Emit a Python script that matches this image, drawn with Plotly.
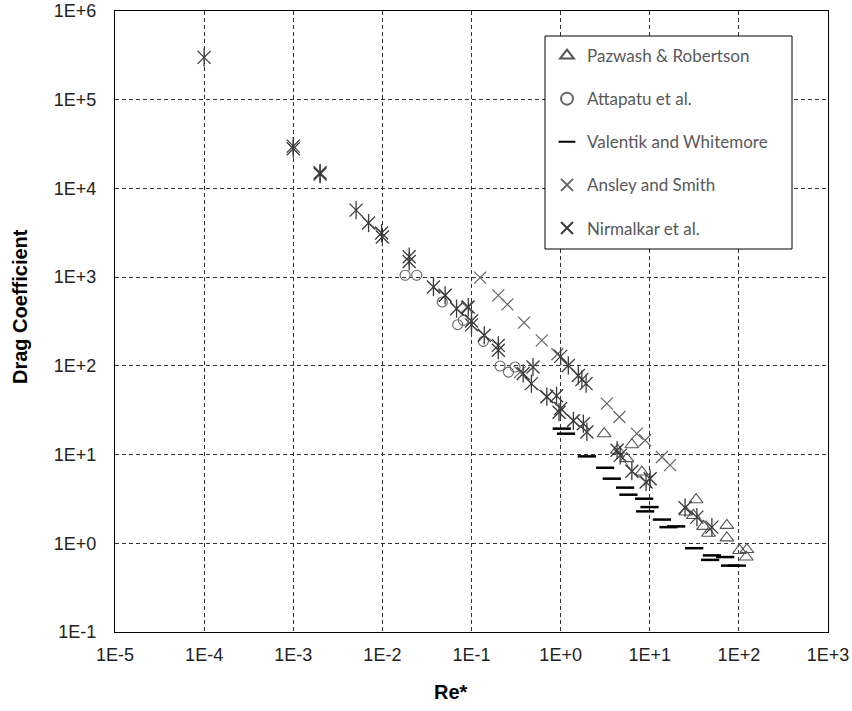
import plotly.graph_objects as go

# ---------------- data ----------------
tick_vals_x = [1e-5, 1e-4, 1e-3, 1e-2, 1e-1, 1e0, 1e1, 1e2, 1e3]
tick_text_x = ["1E-5", "1E-4", "1E-3", "1E-2", "1E-1", "1E+0", "1E+1", "1E+2", "1E+3"]
tick_vals_y = [1e-1, 1e0, 1e1, 1e2, 1e3, 1e4, 1e5, 1e6]
tick_text_y = ["1E-1", "1E+0", "1E+1", "1E+2", "1E+3", "1E+4", "1E+5", "1E+6"]

paz_x = [3.08, 4.35, 5.53, 6.3, 8.15, 25.4, 30.9, 33.1, 40.1, 45.6, 73.3, 73.3, 101.6, 123, 121]
paz_y = [17.2, 11.2, 9.0, 12.9, 6.35, 2.25, 2.06, 3.1, 1.55, 1.30, 1.59, 1.15, 0.83, 0.85, 0.70]

att_x = [0.018, 0.0243, 0.047, 0.070, 0.081, 0.136, 0.209, 0.26, 0.308]
att_y = [1050, 1050, 524, 291, 326, 189, 99.6, 85, 97]

val_x = [1.03, 1.15, 1.97, 3.16, 3.75, 5.29, 5.77, 8.65, 9.93, 8.88, 13.7, 16.2, 19.8,
         31.5, 49.8, 47.6, 70.2, 79.8, 94.9]
val_y = [19.6, 17.2, 9.55, 7.1, 5.35, 4.24, 3.53, 3.18, 2.56, 2.29, 1.85, 1.52, 1.55,
         0.88, 0.73, 0.65, 0.70, 0.56, 0.56]

ans_x = [0.125, 0.2, 0.253, 0.389, 0.615, 0.92, 3.3, 4.57, 7.16, 8.87, 13.7, 16.9,
         0.0506, 0.0885, 0.35, 0.70, 1.39]
ans_y = [986, 624, 493, 307, 194, 135, 37.5, 26.5, 17.2, 14.5, 9.4, 7.6,
         624, 460, 85, 44.5, 24.3]

# Nirmalkar et al.: points sharing a segment id are joined by a thin line
nir_x = [1e-4, 1e-3, 1e-3, 2e-3, 2e-3,
         5.07e-3, 7.0e-3, 9.8e-3, 1.0e-2,
         2e-2, 2e-2,
         3.74e-2, 5.06e-2, 6.8e-2, 0.1, 0.1, 0.139, 0.2, 0.2,
         0.092, 0.49, 0.90, 0.96, 1.8,
         0.38, 0.47, 0.70, 1.0, 1.39, 1.97,
         1.0, 1.22, 1.58, 1.73, 1.93,
         4.3, 4.66, 6.3, 9.1, 10.1,
         24.9, 33.8, 49.8]
nir_y = [3.0e5, 3.0e4, 2.8e4, 1.5e4, 1.45e4,
         5.7e3, 4.07e3, 3.14e3, 2.83e3,
         1.7e3, 1.5e3,
         773, 624, 441, 320, 290, 221, 170, 150,
         460, 97, 46, 30, 22.3,
         82, 63, 45, 33, 24, 18,
         128, 101, 78, 70, 63,
         11.2, 9.8, 6.5, 4.9, 5.35,
         2.52, 1.97, 1.52]
nir_seg = [0, 1, 1, 2, 2,
           3, 3, 3, 3,
           4, 4,
           5, 5, 5, 5, 5, 5, 5, 5,
           6, 7, 8, 9, 10,
           11, 11, 11, 11, 11, 11,
           12, 12, 12, 12, 12,
           13, 13, 13, 13, 13,
           14, 14, 14]
nir_linked = [3, 5, 11, 12, 13, 14]

legend_names = ["Pazwash & Robertson", "Attapatu et al.", "Valentik and Whitemore",
                "Ansley and Smith", "Nirmalkar et al."]

# ---------------- figure ----------------
fig = go.Figure()

fig.add_trace(go.Scatter(
    x=paz_x, y=paz_y, mode="markers", name=legend_names[0], legendgroup="g0",
    marker=dict(symbol="triangle-up-open", size=12, color="#555555",
                line=dict(width=1.1, color="#555555"))))
fig.add_trace(go.Scatter(
    x=att_x, y=att_y, mode="markers", name=legend_names[1], legendgroup="g1",
    marker=dict(symbol="circle-open", size=10, color="#666666",
                line=dict(width=1.1, color="#666666"))))
fig.add_trace(go.Scatter(
    x=val_x, y=val_y, mode="markers", name=legend_names[2], legendgroup="g2",
    marker=dict(symbol="line-ew-open", size=13, color="#000000",
                line=dict(width=2.5, color="#000000"))))
fig.add_trace(go.Scatter(
    x=ans_x, y=ans_y, mode="markers", name=legend_names[3], legendgroup="g3",
    marker=dict(symbol="x-thin-open", size=12, color="#666666",
                line=dict(width=1.2, color="#666666"))))

# Nirmalkar: six-armed star = thin x overlaid with a vertical stroke
segs = []
for s in nir_seg:
    if s not in segs:
        segs.append(s)
first = True
for s in segs:
    xs = [x for x, g in zip(nir_x, nir_seg) if g == s]
    ys = [y for y, g in zip(nir_y, nir_seg) if g == s]
    fig.add_trace(go.Scatter(
        x=xs, y=ys, mode="lines+markers" if s in nir_linked else "markers",
        name=legend_names[4], legendgroup="g4", showlegend=first,
        line=dict(color="#555555", width=1),
        marker=dict(symbol="x-thin-open", size=13, color="#3a3a3a",
                    line=dict(width=1.3, color="#3a3a3a"))))
    first = False
fig.add_trace(go.Scatter(
    x=nir_x, y=nir_y, mode="markers", name=legend_names[4], legendgroup="g4",
    showlegend=False,
    marker=dict(symbol="line-ns-open", size=13, color="#3a3a3a",
                line=dict(width=1.3, color="#3a3a3a"))))

W, H = 852, 711
L, T, R, B = 115, 11, 852 - 828, 711 - 632
pw, ph = W - L - R, H - T - B


def px_x(p):
    return (p - L) / pw


def px_y(p):
    return (H - B - p) / ph


axis_common = dict(
    type="log", showline=True, linecolor="#000000", linewidth=1.3, mirror=True,
    showgrid=True, gridcolor="#333333", gridwidth=1, griddash="4px,3px",
    zeroline=False, ticks="", ticklabeloverflow="allow",
    tickfont=dict(family="Liberation Sans, Arial", size=18, color="#222222"),
)

fig.update_xaxes(range=[-5, 3], tickvals=tick_vals_x, ticktext=tick_text_x,
                 ticklabelstandoff=6, **axis_common)
fig.update_yaxes(range=[-1, 6], tickvals=tick_vals_y, ticktext=tick_text_y,
                 ticklabelstandoff=14, **axis_common)

fig.add_shape(type="rect", xref="paper", yref="paper",
              x0=px_x(545), x1=px_x(792), y0=px_y(249), y1=px_y(36),
              line=dict(color="#000000", width=1), fillcolor="#ffffff", layer="above")

fig.add_annotation(text="<b>Re*</b>", xref="paper", yref="paper",
                   x=px_x(451), y=px_y(692), showarrow=False,
                   xanchor="center", yanchor="middle",
                   font=dict(family="Liberation Sans, Arial", size=20, color="#000000"))
fig.add_annotation(text="<b>Drag Coefficient</b>", xref="paper", yref="paper",
                   x=px_x(20), y=px_y(307), showarrow=False, textangle=-90,
                   xanchor="center", yanchor="middle",
                   font=dict(family="Liberation Sans, Arial", size=20, color="#000000"))

fig.update_layout(
    width=W, height=H,
    margin=dict(l=L, r=R, t=T, b=B, autoexpand=False),
    paper_bgcolor="#ffffff", plot_bgcolor="#ffffff",
    showlegend=True,
    legend=dict(x=px_x(547), y=px_y(38), xanchor="left", yanchor="top",
                bgcolor="rgba(0,0,0,0)", borderwidth=0,
                font=dict(family="Lato", size=17, color="#595959"),
                tracegroupgap=18, itemsizing="constant"),
)

fig.write_html("out.html", config={"displayModeBar": False},
               post_script="document.body.style.margin='0px';document.body.style.overflow='hidden';")
